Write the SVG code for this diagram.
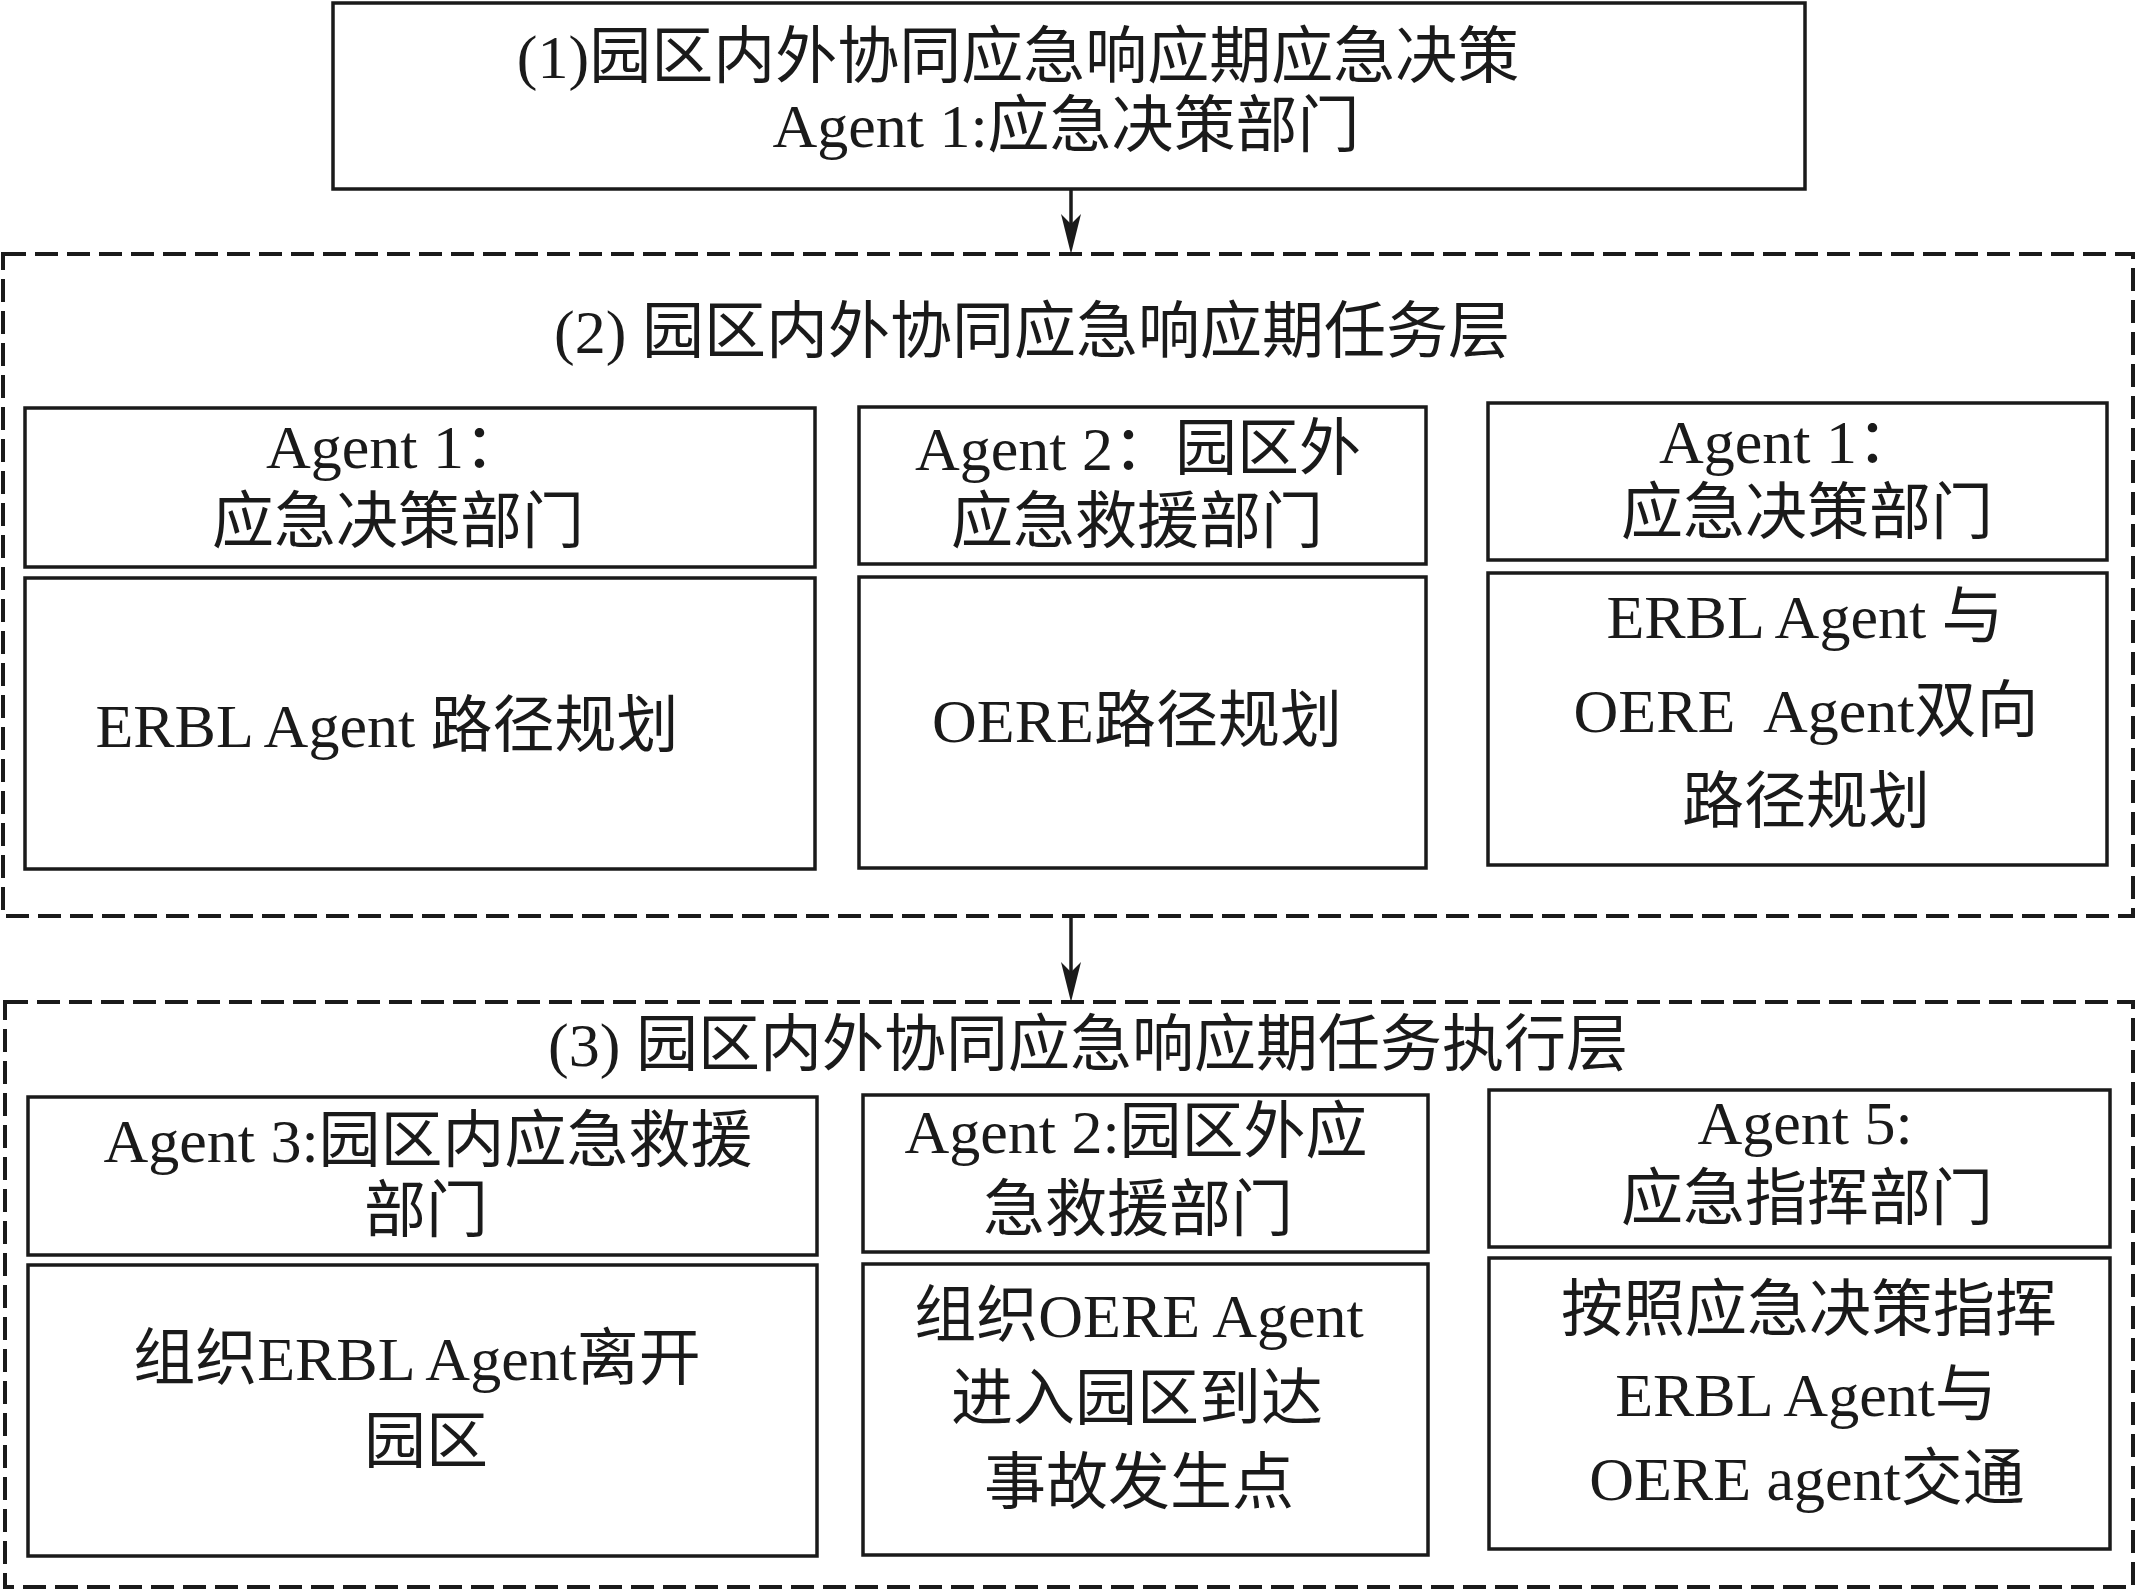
<svg xmlns="http://www.w3.org/2000/svg" width="2137" height="1591" viewBox="0 0 2137 1591">
<style>
.box{fill:#fff;stroke:#1a1a1a;stroke-width:3.5}
.layer{fill:none;stroke:#1a1a1a;stroke-width:4;stroke-dasharray:23 9}
.conn{stroke:#1a1a1a;stroke-width:3.5;fill:none}
.head{fill:#1a1a1a}
text{font-family:"Liberation Serif","Noto Sans CJK SC",serif;font-size:62px;fill:#1a1a1a;text-anchor:middle}
</style>
<rect width="2137" height="1591" fill="#fff"/>

<g id="layer2-frame"><rect class="layer" x="3" y="254" width="2130" height="662"/></g>
<g id="layer3-frame"><rect class="layer" x="5" y="1002" width="2128" height="585"/></g>

<g id="connectors">
<line class="conn" x1="1071" y1="189" x2="1071" y2="240"/>
<path class="head" d="M1061,214 L1071,254 L1081,214 L1071,224 Z"/>
<line class="conn" x1="1071" y1="916" x2="1071" y2="988"/>
<path class="head" d="M1061,962 L1071,1002 L1081,962 L1071,972 Z"/>
</g>

<g id="n1">
<rect class="box" x="333" y="3" width="1472" height="186"/>
<text x="1018" y="78">(1)园区内外协同应急响应期应急决策</text>
<text x="1066" y="147">Agent 1:应急决策部门</text>
</g>

<g id="layer2-title"><text x="1032" y="353">(2) 园区内外协同应急响应期任务层</text></g>

<g id="n2a">
<rect class="box" x="25" y="408" width="790" height="159"/>
<text x="396" y="468">Agent 1：</text>
<text x="398" y="543">应急决策部门</text>
</g>
<g id="n2a-task">
<rect class="box" x="25" y="578" width="790" height="291"/>
<text x="387" y="747">ERBL Agent 路径规划</text>
</g>

<g id="n2b">
<rect class="box" x="859" y="407" width="567" height="157"/>
<text x="1138" y="470">Agent 2：园区外</text>
<text x="1137" y="543">应急救援部门</text>
</g>
<g id="n2b-task">
<rect class="box" x="859" y="577" width="567" height="291"/>
<text x="1137" y="742">OERE路径规划</text>
</g>

<g id="n2c">
<rect class="box" x="1488" y="403" width="619" height="157"/>
<text x="1789" y="463">Agent 1：</text>
<text x="1807" y="534">应急决策部门</text>
</g>
<g id="n2c-task">
<rect class="box" x="1488" y="573" width="619" height="292"/>
<text x="1805" y="638">ERBL Agent 与</text>
<text x="1806" y="732">OERE&#160; Agent双向</text>
<text x="1806" y="823">路径规划</text>
</g>

<g id="layer3-title"><text x="1088" y="1066">(3) 园区内外协同应急响应期任务执行层</text></g>

<g id="n3a">
<rect class="box" x="28" y="1097" width="789" height="158"/>
<text x="428" y="1162">Agent 3:园区内应急救援</text>
<text x="426" y="1232">部门</text>
</g>
<g id="n3a-task">
<rect class="box" x="28" y="1265" width="789" height="291"/>
<text x="417" y="1380">组织ERBL Agent离开</text>
<text x="426" y="1463">园区</text>
</g>

<g id="n3b">
<rect class="box" x="863" y="1095" width="565" height="157"/>
<text x="1136" y="1153">Agent 2:园区外应</text>
<text x="1138" y="1231">急救援部门</text>
</g>
<g id="n3b-task">
<rect class="box" x="863" y="1264" width="565" height="291"/>
<text x="1139" y="1337">组织OERE Agent</text>
<text x="1137" y="1420">进入园区到达</text>
<text x="1139" y="1504">事故发生点</text>
</g>

<g id="n3c">
<rect class="box" x="1489" y="1090" width="621" height="157"/>
<text x="1805" y="1144">Agent 5:</text>
<text x="1807" y="1220">应急指挥部门</text>
</g>
<g id="n3c-task">
<rect class="box" x="1489" y="1258" width="621" height="291"/>
<text x="1809" y="1331">按照应急决策指挥</text>
<text x="1806" y="1416">ERBL Agent与</text>
<text x="1807" y="1500">OERE agent交通</text>
</g>
</svg>
